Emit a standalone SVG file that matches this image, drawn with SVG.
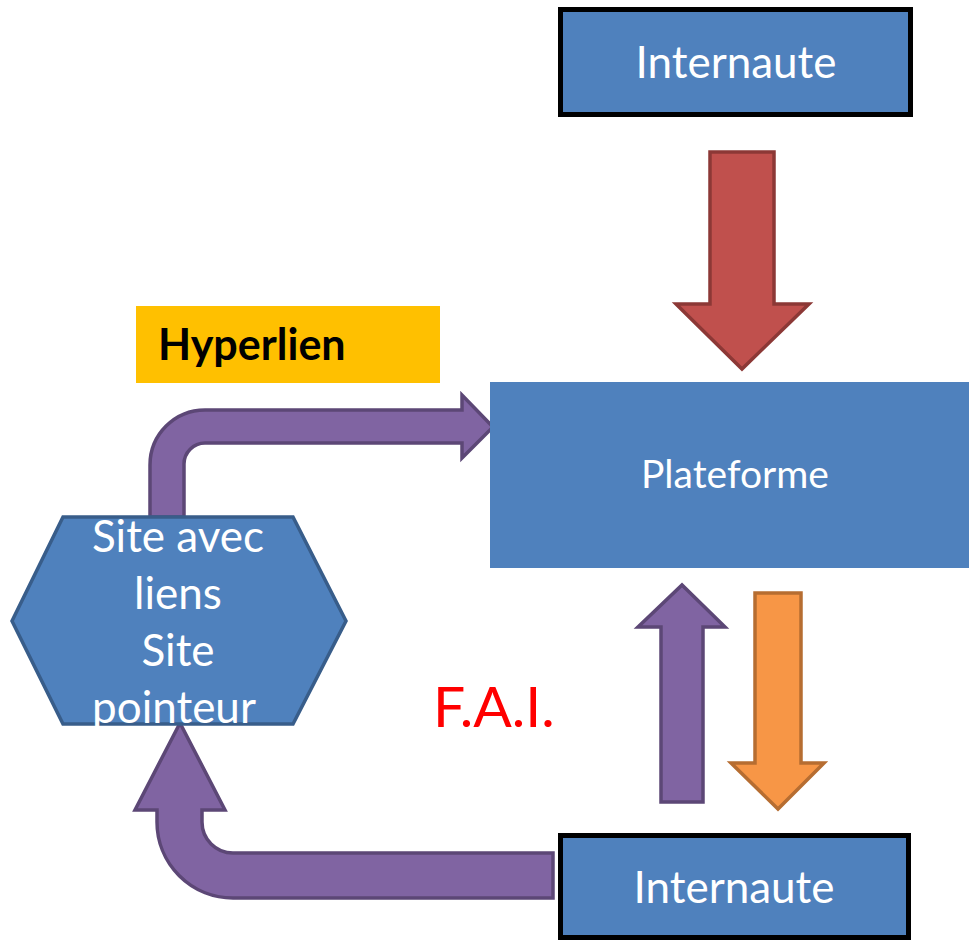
<svg xmlns="http://www.w3.org/2000/svg" width="969" height="940" viewBox="0 0 969 940">
<style>
  .box { fill: #4F81BD; }
  .bbox { fill: #4F81BD; stroke: #000000; stroke-width: 5; }
  .wt { fill: #FFFFFF; font-family: Lato, "Liberation Sans", sans-serif; text-anchor: middle; }
  .purple { fill: #8064A2; stroke: #5C4776; stroke-width: 3.5; stroke-linejoin: miter; }
  .red { fill: #C0504D; stroke: #8C3836; stroke-width: 3.5; }
  .orange { fill: #F79646; stroke: #B66D31; stroke-width: 3.5; }
</style>
<rect width="969" height="940" fill="#FFFFFF"/>

<g id="connectors">
  <path class="red" d="M710,152 L774,152 L774,304 L809,304 L742,369 L676,304 L710,304 Z"/>
  <path class="purple" d="M150,517 L150,465 A55,55 0 0 1 205,410 L462,410 L462,395 L493,427 L462,458 L462,443 L205,443 A21,21 0 0 0 184,464 L184,517 Z"/>
  <path class="purple" d="M553,853 L233,853 A31,31 0 0 1 202,822 L202,810 L225,810 L180,723 L135,810 L157,810 L157,822 A76,76 0 0 0 233,898 L553,898 Z"/>
  <path class="purple" d="M661,802 L661,627 L638,627 L682,585 L725,627 L703,627 L703,802 Z"/>
  <path class="orange" d="M755,593 L801,593 L801,763 L824,763 L778,809 L731,763 L755,763 Z"/>
</g>

<g id="internaute-top">
  <rect class="bbox" x="560.5" y="9.5" width="350" height="105"/>
  <text class="wt" x="736" y="78" font-size="44">Internaute</text>
</g>

<g id="plateforme">
  <rect class="box" x="490" y="382" width="479" height="186"/>
  <text class="wt" x="735" y="488" font-size="39">Plateforme</text>
</g>

<g id="hyperlien">
  <rect x="136" y="306" width="304" height="77" fill="#FFC000"/>
  <text x="158" y="360" font-size="43" font-weight="bold" fill="#000000" font-family="Lato, 'Liberation Sans', sans-serif">Hyperlien</text>
</g>

<g id="site">
  <polygon points="63,517 293,517 346,621 293,724 63,724 12,621" fill="#4F81BD" stroke="#385D8A" stroke-width="3.5"/>
  <text class="wt" x="178" y="552" font-size="44">Site avec</text>
  <text class="wt" x="178" y="609" font-size="44">liens</text>
  <text class="wt" x="178" y="666" font-size="44">Site</text>
  <text class="wt" x="174" y="723" font-size="44">pointeur</text>
</g>

<g id="fai">
  <text x="433" y="727" font-size="57" fill="#FF0000" font-family="Lato, 'Liberation Sans', sans-serif">F.A.I.</text>
</g>

<g id="internaute-bottom">
  <rect class="bbox" x="560.5" y="835.5" width="348" height="102"/>
  <text class="wt" x="734" y="903" font-size="44">Internaute</text>
</g>
</svg>
